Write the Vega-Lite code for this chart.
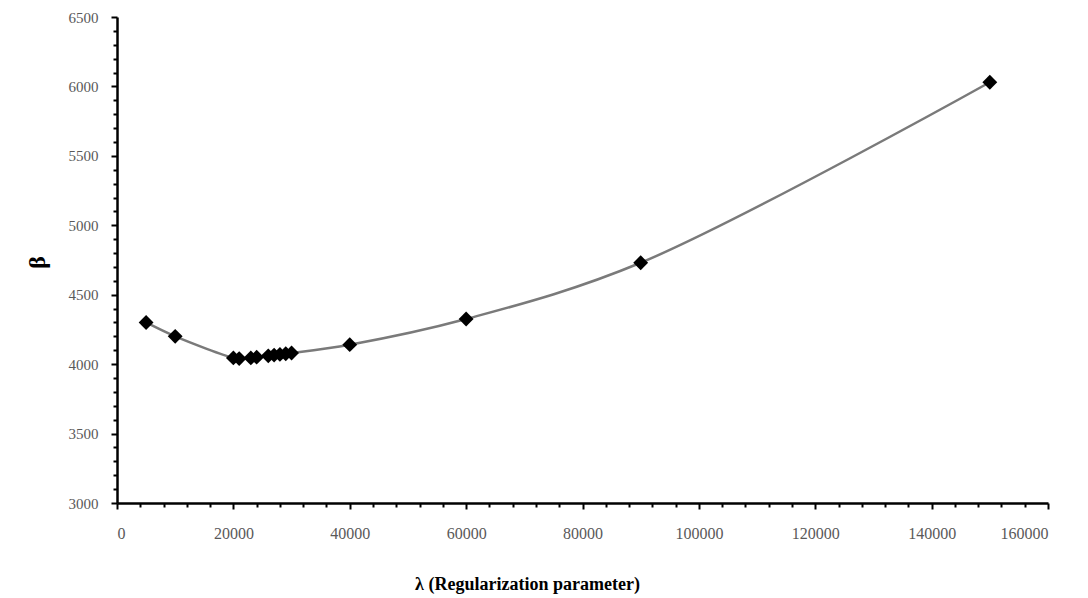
{
  "$schema": "https://vega.github.io/schema/vega-lite/v6.json",
  "width": 931,
  "height": 486,
  "autosize": "none",
  "padding": {"left": 117, "top": 17, "right": 40, "bottom": 95},
  "background": "white",
  "config": {"view": {"stroke": null}},
  "data": {"values": [
    {"lambda": 5000, "beta": 4300},
    {"lambda": 10000, "beta": 4200},
    {"lambda": 20000, "beta": 4045},
    {"lambda": 21000, "beta": 4040},
    {"lambda": 23000, "beta": 4045},
    {"lambda": 24000, "beta": 4050},
    {"lambda": 26000, "beta": 4060},
    {"lambda": 27000, "beta": 4065},
    {"lambda": 28000, "beta": 4070},
    {"lambda": 29000, "beta": 4075},
    {"lambda": 30000, "beta": 4080},
    {"lambda": 40000, "beta": 4140},
    {"lambda": 60000, "beta": 4325},
    {"lambda": 90000, "beta": 4730},
    {"lambda": 150000, "beta": 6030}
  ]},
  "resolve": {"axis": {"x": "independent", "y": "independent"}},
  "layer": [
    {
      "mark": {"type": "line", "interpolate": "catmull-rom", "color": "#7a7a7a", "strokeWidth": 2.5},
      "encoding": {
        "x": {"field": "lambda", "type": "quantitative", "scale": {"domain": [0, 160000], "nice": false},
          "axis": {"orient": "bottom", "values": [4000, 8000, 12000, 16000, 24000, 28000, 32000, 36000, 44000, 48000, 52000, 56000, 64000, 68000, 72000, 76000, 84000, 88000, 92000, 96000, 104000, 108000, 112000, 116000, 124000, 128000, 132000, 136000, 144000, 148000, 152000, 156000],
            "labels": false, "title": null, "domain": false, "grid": false, "tickSize": 4, "tickWidth": 2, "tickColor": "black"}},
        "y": {"field": "beta", "type": "quantitative", "scale": {"domain": [3000, 6500], "nice": false, "zero": false},
          "axis": {"orient": "left", "values": [3100, 3200, 3300, 3400, 3600, 3700, 3800, 3900, 4100, 4200, 4300, 4400, 4600, 4700, 4800, 4900, 5100, 5200, 5300, 5400, 5600, 5700, 5800, 5900, 6100, 6200, 6300, 6400],
            "labels": false, "title": null, "domain": false, "grid": false, "tickSize": 4, "tickWidth": 2, "tickColor": "black"}}
      }
    },
    {
      "mark": {"type": "point", "shape": "diamond", "filled": true, "color": "black", "size": 220, "opacity": 1},
      "encoding": {
        "x": {"field": "lambda", "type": "quantitative",
          "axis": {"orient": "bottom", "values": [0, 20000, 40000, 60000, 80000, 100000, 120000, 140000, 160000], "format": "d",
            "grid": false, "domainColor": "black", "domainWidth": 2.5, "tickColor": "black", "tickWidth": 2, "tickSize": 6,
            "labelFont": "Liberation Serif", "labelFontSize": 16, "labelColor": "#595959", "labelPadding": 16,
            "title": "λ (Regularization parameter)", "titleFont": "Liberation Serif", "titleFontSize": 18, "titleFontWeight": "bold", "titleColor": "black",
            "titleX": 410, "titleY": 86, "titleAlign": "center", "titleBaseline": "alphabetic"}},
        "y": {"field": "beta", "type": "quantitative",
          "axis": {"orient": "left", "values": [3000, 3500, 4000, 4500, 5000, 5500, 6000, 6500], "format": "d",
            "grid": false, "domainColor": "black", "domainWidth": 2.5, "tickColor": "black", "tickWidth": 2, "tickSize": 6,
            "labelFont": "Liberation Serif", "labelFontSize": 15, "labelColor": "#595959", "labelPadding": 13,
            "title": "β", "titleFont": "Liberation Serif", "titleFontSize": 24, "titleFontWeight": "bold", "titleColor": "black",
            "titleX": -80, "titleY": 245, "titleAlign": "center", "titleBaseline": "middle", "titleAngle": 270}}
      }
    }
  ]
}
